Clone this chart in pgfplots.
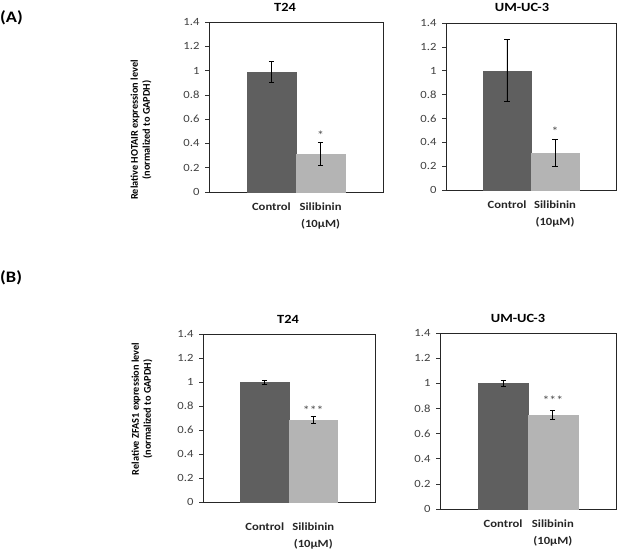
\documentclass[border=0pt]{standalone}
\usepackage{fontspec}
\setmainfont{Carlito}[FakeStretch=1.15]
\newfontfamily\plainfont{Carlito}
\usepackage{pgfplots}
\pgfplotsset{compat=1.18}
\definecolor{ctrl}{HTML}{5F5F5F}
\definecolor{sili}{HTML}{B4B4B4}
\definecolor{tk}{HTML}{404040}
\pgfplotsset{
  panel/.style={
    scale only axis, anchor=south west,
    ymin=0, ymax=1.4, ytick={0,0.2,0.4,0.6,0.8,1,1.2,1.4},
    xmin=-1.27, xmax=2.27, xtick={0,1},
    xticklabels={Control, Silibinin\\(10µM)},
    xticklabel style={align=center, font=\fontsize{11}{17}\selectfont\bfseries, color=black!85, yshift=-3pt},
    major x tick style={draw=none},
    ytick pos=left, xtick pos=bottom, tick align=outside, major tick length=4pt,
    major y tick style={black!80, line width=0.7pt},
    yticklabel style={font=\fontsize{11}{13}\selectfont, color=tk, xshift=-2pt},
    /pgf/number format/assume math mode=true,
    axis line style={black!85, line width=0.8pt},
    ybar, bar width=1,
    clip=false,
  },
  errb/.style={
    error bars/.cd, y dir=both, y explicit,
    error bar style={black, line width=0.8pt},
    error mark options={rotate=90, mark size=2.6pt, black, line width=0.8pt},
  },
}
\begin{document}
\begin{tikzpicture}[x=1pt,y=1pt]
\path[use as bounding box] (0,0) rectangle (620,552);

% ---------------- (A) T24
\begin{axis}[panel, at={(209pt,360pt)}, width=174pt, height=170pt]
\addplot[fill=ctrl, draw=ctrl, bar shift=0, errb] coordinates {(0,0.99) +- (0,0.085)};
\addplot[fill=sili, draw=sili, bar shift=0, errb] coordinates {(1,0.31) +- (0,0.095)};
\node[font=\fontsize{12}{12}\selectfont, color=black!70] at (axis cs:1,0.47) {*};
\end{axis}

% ---------------- (A) UM-UC-3
\begin{axis}[panel, at={(446pt,362pt)}, width=170pt, height=167pt]
\addplot[fill=ctrl, draw=ctrl, bar shift=0, errb] coordinates {(0,1.0) +- (0,0.26)};
\addplot[fill=sili, draw=sili, bar shift=0, errb] coordinates {(1,0.31) +- (0,0.115)};
\node[font=\fontsize{12}{12}\selectfont, color=black!70] at (axis cs:1,0.49) {*};
\end{axis}

% ---------------- (B) T24
\begin{axis}[panel, at={(203pt,50pt)}, width=172pt, height=168pt,
  xticklabel style={yshift=-10pt}]
\addplot[fill=ctrl, draw=ctrl, bar shift=0, errb] coordinates {(0,0.995) +- (0,0.017)};
\addplot[fill=sili, draw=sili, bar shift=0, errb] coordinates {(1,0.685) +- (0,0.03)};
\node[font=\fontsize{12}{12}\selectfont, color=black!70] at (axis cs:1,0.765) {***};
\end{axis}

% ---------------- (B) UM-UC-3
\begin{axis}[panel, at={(440pt,43pt)}, width=176pt, height=176pt]
\addplot[fill=ctrl, draw=ctrl, bar shift=0, errb] coordinates {(0,1.0) +- (0,0.025)};
\addplot[fill=sili, draw=sili, bar shift=0, errb] coordinates {(1,0.75) +- (0,0.035)};
\node[font=\fontsize{12}{12}\selectfont, color=black!70] at (axis cs:1,0.865) {***};
\end{axis}

% titles
\node[font=\fontsize{12.5}{14}\selectfont\bfseries] at (285,545) {T24};
\node[font=\fontsize{12.5}{14}\selectfont\bfseries] at (522,545) {UM-UC-3};
\node[font=\fontsize{12.5}{14}\selectfont\bfseries] at (288,233) {T24};
\node[font=\fontsize{12.5}{14}\selectfont\bfseries] at (518,234) {UM-UC-3};

% panel letters
\node[font=\fontsize{16}{18}\selectfont\bfseries, anchor=west, inner sep=0pt] at (0,534) {(A)};
\node[font=\fontsize{16}{18}\selectfont\bfseries, anchor=west, inner sep=0pt] at (0,274) {(B)};

% y labels
\node[rotate=90, align=center, font=\plainfont\fontsize{10.3}{12}\selectfont\bfseries] at (141,422)
  {Relative HOTAIR expression level\\(normalized to GAPDH)};
\node[rotate=90, align=center, font=\plainfont\fontsize{10.3}{12}\selectfont\bfseries] at (142,143)
  {Relative ZFAS1 expression level\\(normalized to GAPDH)};
\end{tikzpicture}
\end{document}
